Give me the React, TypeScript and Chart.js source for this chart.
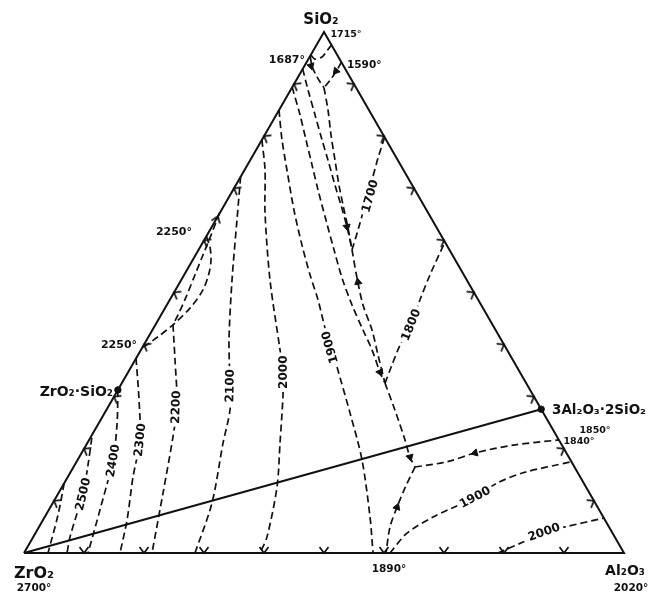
import React, { useEffect, useRef } from "react";
import { Chart, registerables } from "chart.js";

Chart.register(...registerables);

// Coordinates: [x, s] where x = position along ZrO2 -> Al2O3 base (0..100)
// and s = wt% SiO2 (0..100). Apex SiO2 = [50, 100].
type P = [number, number];

const triangle: P[] = [[0, 0], [100, 0], [50, 100], [0, 0]];
const zirconMulliteJoin: P[] = [[0, 0], [86.2, 27.6]];
const compoundPoints: P[] = [[15.65, 31.3], [86.2, 27.6]];

// isotherms (ZrO2 field)
const iso2600: P[] = [[6.7, 13.4], [5.67, 7.3], [4, 0]];
const iso2500: P[] = [[11.3, 22.1], [10.67, 16.9], [9.83, 11.5], [7.67, 3.1], [7.17, 0]];
const iso2400: P[] = [[15.65, 31.3], [15.5, 24.6], [14.83, 17.9], [12.67, 8.3], [10.67, 0]];
const iso2300: P[] = [[18.67, 37.4], [19.17, 29.4], [19.33, 21.7], [18.17, 14.6], [17.17, 6.3], [16, 0]];
const iso2200: P[] = [[24.83, 43.8], [25.17, 37.0], [25.5, 28.4], [24.83, 22.3], [23.17, 11.5], [21.33, 0]];
const iso2100: P[] = [[36.1, 72.2], [35.5, 64.0], [34.67, 52.4], [34.17, 40.9], [34.33, 32.2], [34.33, 27.4], [33.17, 21.1], [31.33, 9.6], [28.5, 0]];
const iso2000: P[] = [[39.65, 79.3], [40.17, 73.5], [40.17, 65.3], [41, 52.4], [42.67, 39.0], [43.17, 34.7], [43.17, 30.3], [42.67, 21.1], [42.17, 12.7], [40.5, 3.1], [39.33, 0]];
const iso1900: P[] = [[42.5, 85.0], [43, 79.3], [43.83, 73.5], [45, 65.8], [46.33, 59.1], [47.67, 53.4], [49, 48.6], [50.17, 43.2], [51.17, 39.7], [52.17, 35.7], [54.33, 26.9], [56.33, 17.9], [57.67, 6.9], [58.17, 0]];
// isotherms (SiO2 / mullite / Al2O3 fields)
const iso1700: P[] = [[54.67, 58.2], [55.67, 62.0], [56.83, 66.8], [58, 71.6], [59, 75.8], [60.1, 79.8]];
const iso1800: P[] = [[60.17, 32.6], [61.33, 36.1], [62.67, 39.9], [64.5, 43.8], [66, 48.6], [67.67, 53.4], [70.15, 59.7]];
const iso1900Al: P[] = [[61, 0], [63.83, 3.8], [68.17, 6.9], [75.17, 10.7], [78.83, 13.4], [83.17, 15.4], [91.2, 17.5]];
const iso2000Al: P[] = [[79, 0], [83.17, 2.1], [86.67, 4.0], [90.17, 5.0], [96.6, 6.7]];

// boundary curves
const topArc: P[] = [[47.8, 95.6], [48.5, 94.8], [49.67, 95.2], [50.5, 96.4], [51.25, 97.5]];
const boundary1687: P[] = [[47.7, 95.4], [48, 93.5], [48.83, 91.4], [50, 89.3]];
const boundary1590: P[] = [[52.9, 94.2], [52.17, 92.7], [51.17, 91.0], [50, 89.3]];
const boundaryStem: P[] = [[50, 89.3], [50.67, 85.0], [51.17, 80.2], [51.83, 75.4], [52.5, 70.6], [53.17, 66.8], [54, 62.4], [54.67, 58.2]];
const boundaryA: P[] = [[46.45, 92.9], [47.33, 88.9], [48.5, 84.1], [49.67, 79.3], [50.67, 75.4], [51.83, 70.6], [52.83, 66.8], [53.83, 62.6], [54.67, 58.2]];
const boundaryB: P[] = [[44.7, 89.4], [46, 84.1], [47, 79.3], [48, 74.5], [49, 69.7], [50.33, 63.9], [51.67, 58.2], [53, 52.8], [54.67, 47.6], [56.5, 42.8], [58, 39.0], [59.33, 34.7], [60.17, 32.6]];
const boundaryC: P[] = [[54.67, 58.2], [55.5, 52.8], [56.5, 47.6], [58, 42.8], [59, 38.0], [60.17, 32.6]];
const boundaryD: P[] = [[60.17, 32.6], [61.83, 27.4], [63.5, 21.7], [64.33, 18.4], [65.17, 16.5]];
const boundary1840: P[] = [[65.17, 16.5], [70.5, 17.5], [75.17, 19.2], [81.5, 20.7], [89.1, 21.7]];
const boundary1890: P[] = [[65.17, 16.5], [63.5, 12.5], [62.17, 8.8], [61, 5.0], [60.33, 0]];
const gapStraight: P[] = [[32.6, 65.3], [31.17, 61.0], [29.83, 57.2], [28.5, 53.4], [27, 49.1], [25.67, 45.7], [24.83, 43.8]];
const gapBulge: P[] = [[30.4, 60.8], [31, 58.7], [31.17, 56.2], [30.83, 53.7], [29.83, 50.5], [27.67, 47.0], [24.83, 43.8], [22.33, 41.5], [19.65, 39.3]];

const dashedCurves: P[][] = [
  iso2600, iso2500, iso2400, iso2300, iso2200, iso2100, iso2000, iso1900,
  iso1700, iso1800, iso1900Al, iso2000Al,
  topArc, boundary1687, boundary1590, boundaryStem, boundaryA, boundaryB,
  boundaryC, boundaryD, boundary1840, boundary1890, gapStraight, gapBulge,
];

// filled arrowheads on boundary curves
const arrowPoints: P[] = [[47.83, 93.5], [52, 92.5], [53.83, 62.6], [55.67, 52.0], [59.33, 34.7], [64.33, 18.4], [75.17, 19.2], [62.17, 8.8]];
const arrowAngles: number[] = [163, 220, 168, -10, 155, 165, 255, 20];

// composition ticks (wt %) on the three edges
const tickSteps: number[] = [10, 20, 30, 40, 50, 60, 70, 80, 90];
// extra open arrowhead at the top of the straight gap boundary
const extraChevrons: P[] = [[32.3, 64.6]];
const extraChevronAngles: number[] = [20];

// isotherm labels
const isoLabelText: string[] = ["2500", "2400", "2300", "2200", "2100", "2000", "1900", "1700", "1800", "1900", "2000"];
const isoLabelPos: P[] = [[9.83, 11.3], [14.83, 17.7], [19.33, 21.7], [25.33, 28.0], [34.33, 32.1], [43.17, 34.7], [51, 39.5], [57.67, 68.5], [64.5, 43.8], [75.17, 10.7], [86.67, 4.0]];
const isoLabelAngle: number[] = [-77, -80, -84, -88, -89, -90, -106, -74, -68, -28, -19];

// annotations
const noteText: string[] = ["SiO₂", "1715°", "1687°", "1590°", "2250°", "2250°", "ZrO₂·SiO₂", "3Al₂O₃·2SiO₂", "1850°", "1840°", "1890°", "ZrO₂", "2700°", "Al₂O₃", "2020°"];
const notePos: P[] = [[49.5, 102.3], [53.67, 99.6], [46.83, 94.6], [53.83, 93.7], [28, 61.6], [15.83, 39.9], [14.83, 30.9], [88, 27.4], [95.17, 23.6], [92.5, 21.3], [60.83, -3.1], [1.67, -4.0], [1.67, -6.7], [100.17, -3.6], [101.17, -6.7]];
const noteSize: number[] = [15, 9.5, 11, 10.5, 11, 11, 14, 13.5, 9.5, 9.5, 10.5, 16, 10.5, 14, 10.5];
const noteAlign: CanvasTextAlign[] = ["center", "center", "right", "left", "right", "center", "right", "left", "center", "center", "center", "center", "center", "center", "center"];

const INK = "#111";
const FONT = '"DejaVu Sans", sans-serif';

const xy = (pts: P[]) => pts.map(([x, s]) => ({ x, y: s }));

export default function App() {
  const ref = useRef<HTMLCanvasElement | null>(null);

  useEffect(() => {
    document.body.style.margin = "0";
    const canvas = ref.current;
    if (!canvas) return;

    const chevron = document.createElement("canvas");
    chevron.width = 16;
    chevron.height = 16;
    const c = chevron.getContext("2d")!;
    c.strokeStyle = INK;
    c.lineWidth = 1.7;
    c.beginPath();
    c.moveTo(3.5, 14);
    c.lineTo(8, 8);
    c.lineTo(12.5, 14);
    c.stroke();

    const tickPts: P[] = [];
    const tickRot: number[] = [];
    tickSteps.forEach((t) => { tickPts.push([t / 2, t]); tickRot.push(-60); });
    tickSteps.forEach((t) => { tickPts.push([100 - t / 2, t]); tickRot.push(60); });
    tickSteps.forEach((t) => { tickPts.push([t, 0]); tickRot.push(180); });
    extraChevrons.forEach((p, i) => { tickPts.push(p); tickRot.push(extraChevronAngles[i]); });

    const lineDs = (pts: P[], dashed: boolean, width: number) => ({
      data: xy(pts),
      showLine: true,
      borderColor: INK,
      borderWidth: width,
      borderDash: dashed ? [7, 4] : [],
      pointRadius: 0,
      tension: dashed ? 0.3 : 0,
      fill: false,
      clip: false as const,
    });

    const datasets: any[] = [
      lineDs(triangle, false, 2),
      lineDs(zirconMulliteJoin, false, 2),
      ...dashedCurves.map((c2) => lineDs(c2, true, 1.7)),
      {
        data: xy(arrowPoints),
        showLine: false,
        pointStyle: "triangle",
        pointRadius: 4.2,
        rotation: arrowAngles,
        backgroundColor: INK,
        borderColor: INK,
        borderWidth: 1,
        clip: false,
      },
      {
        data: xy(tickPts),
        showLine: false,
        pointStyle: chevron,
        pointRadius: 5,
        rotation: tickRot,
        clip: false,
      },
      {
        data: xy(compoundPoints),
        showLine: false,
        pointStyle: "circle",
        pointRadius: 3.2,
        backgroundColor: INK,
        borderColor: INK,
        clip: false,
      },
    ];

    const labelPlugin = {
      id: "ternaryLabels",
      afterDatasetsDraw(chart: any) {
        const ctx: CanvasRenderingContext2D = chart.ctx;
        const xs = chart.scales.x;
        const ys = chart.scales.y;
        isoLabelText.forEach((t, i) => {
          const px = xs.getPixelForValue(isoLabelPos[i][0]);
          const py = ys.getPixelForValue(isoLabelPos[i][1]);
          ctx.save();
          ctx.translate(px, py);
          ctx.rotate((isoLabelAngle[i] * Math.PI) / 180);
          ctx.font = `bold 12px ${FONT}`;
          ctx.textAlign = "center";
          ctx.textBaseline = "middle";
          const w = ctx.measureText(t).width;
          ctx.fillStyle = "#fff";
          ctx.fillRect(-w / 2 - 3, -6, w + 6, 12);
          ctx.fillStyle = INK;
          ctx.fillText(t, 0, 0.5);
          ctx.restore();
        });
        noteText.forEach((t, i) => {
          const px = xs.getPixelForValue(notePos[i][0]);
          const py = ys.getPixelForValue(notePos[i][1]);
          ctx.save();
          ctx.font = `bold ${noteSize[i]}px ${FONT}`;
          ctx.textAlign = noteAlign[i];
          ctx.textBaseline = "middle";
          ctx.fillStyle = INK;
          ctx.fillText(t, px, py);
          ctx.restore();
        });
      },
    };

    const chart = new Chart(canvas, {
      type: "scatter",
      data: { datasets },
      options: {
        animation: false,
        responsive: false,
        devicePixelRatio: 1,
        events: [],
        layout: { padding: { left: 24, right: 27, top: 32, bottom: 41 } },
        scales: {
          x: { type: "linear", min: 0, max: 100, display: false },
          y: { type: "linear", min: 0, max: 100, display: false },
        },
        plugins: { legend: { display: false }, tooltip: { enabled: false } },
      },
      plugins: [labelPlugin],
    } as any);

    return () => chart.destroy();
  }, []);

  return (
    <div style={{ position: "absolute", left: 0, top: 0, width: 651, height: 594, background: "#fff" }}>
      <canvas ref={ref} width={651} height={594} style={{ display: "block" }} />
    </div>
  );
}
